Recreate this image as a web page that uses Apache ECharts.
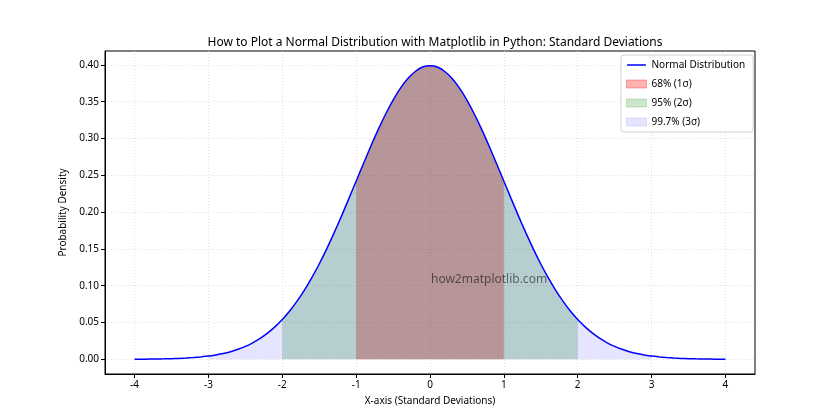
<!DOCTYPE html>
<html>
<head>
<meta charset="utf-8">
<script src="https://cdn.jsdelivr.net/npm/echarts@6/dist/echarts.min.js"></script>
<style>html,body{margin:0;padding:0;background:#fff}#c{width:840px;height:420px}</style>
</head>
<body>
<div id="c"></div>
<script>
// x positions (standard deviations)
const xs = [-4.0,-3.9,-3.8,-3.7,-3.6,-3.5,-3.4,-3.3,-3.2,-3.1,-3.0,-2.9,-2.8,-2.7,-2.6,-2.5,-2.4,-2.3,-2.2,-2.1,-2.0,-1.9,-1.8,-1.7,-1.6,-1.5,-1.4,-1.3,-1.2,-1.1,-1.0,-0.9,-0.8,-0.7,-0.6,-0.5,-0.4,-0.3,-0.2,-0.1,0.0,0.1,0.2,0.3,0.4,0.5,0.6,0.7,0.8,0.9,1.0,1.1,1.2,1.3,1.4,1.5,1.6,1.7,1.8,1.9,2.0,2.1,2.2,2.3,2.4,2.5,2.6,2.7,2.8,2.9,3.0,3.1,3.2,3.3,3.4,3.5,3.6,3.7,3.8,3.9,4.0];
// density values
const ys = [0.0001,0.0002,0.0003,0.0004,0.0006,0.0009,0.0012,0.0017,0.0024,0.0033,0.0044,0.0060,0.0079,0.0104,0.0136,0.0175,0.0224,0.0283,0.0355,0.0440,0.0540,0.0656,0.0790,0.0940,0.1109,0.1295,0.1497,0.1714,0.1942,0.2179,0.2420,0.2661,0.2897,0.3123,0.3332,0.3521,0.3683,0.3814,0.3910,0.3970,0.3989,0.3970,0.3910,0.3814,0.3683,0.3521,0.3332,0.3123,0.2897,0.2661,0.2420,0.2179,0.1942,0.1714,0.1497,0.1295,0.1109,0.0940,0.0790,0.0656,0.0540,0.0440,0.0355,0.0283,0.0224,0.0175,0.0136,0.0104,0.0079,0.0060,0.0044,0.0033,0.0024,0.0017,0.0012,0.0009,0.0006,0.0004,0.0003,0.0002,0.0001];
const xTicks = [-4,-3,-2,-1,0,1,2,3,4];
const yTicks = [0,0.05,0.10,0.15,0.20,0.25,0.30,0.35,0.40];
const bands = [
  {name:'68% (1σ)', k:1, color:'rgba(255,0,0,0.3)'},
  {name:'95% (2σ)', k:2, color:'rgba(0,128,0,0.2)'},
  {name:'99.7% (3σ)', k:3, color:'rgba(0,0,255,0.1)'}
];
const pts = xs.map((x,i)=>[x,ys[i]]);
const font = 'Noto Sans';

const series = bands.map(b=>({
  name:b.name, type:'line', symbol:'none', smooth:0.3,
  data: pts.filter(p=>p[0]>=-b.k-1e-9 && p[0]<=b.k+1e-9),
  lineStyle:{width:0, color:b.color}, itemStyle:{color:b.color},
  areaStyle:{color:b.color, opacity:1}, silent:true, z:2
}));
series.push({
  name:'Normal Distribution', type:'line', symbol:'none', smooth:0.3,
  data:pts, lineStyle:{color:'#0000ff', width:1.5}, itemStyle:{color:'#0000ff'}, z:5
});

const lineIcon = 'path://M0,0 L0.01,0 L0.01,0.01 L0,0.01 Z M0,7 L40,7 L40,10 L0,10 Z M39.99,17 L40,17 L40,16.99 L39.99,16.99 Z';

const chart = echarts.init(document.getElementById('c'), null, {renderer:'canvas'});
chart.setOption({
  animation:false,
  backgroundColor:'#fff',
  textStyle:{fontFamily:font},
  title:{text:'How to Plot a Normal Distribution with Matplotlib in Python: Standard Deviations',
    left:430, top:32, textAlign:'center',
    textStyle:{fontFamily:font, fontSize:12, fontWeight:'normal', color:'#000'}},
  grid:{left:105, right:85, top:51, bottom:46, show:true, borderColor:'#000', borderWidth:1, containLabel:false},
  xAxis:{type:'value', min:-4.4, max:4.4,
    name:'X-axis (Standard Deviations)', nameLocation:'middle', nameGap:22,
    nameTextStyle:{fontFamily:font, fontSize:10, color:'#000'},
    axisLine:{show:true, onZero:false, lineStyle:{color:'#000', width:1}},
    axisTick:{show:true, length:4, customValues:xTicks, lineStyle:{color:'#000'}},
    axisLabel:{customValues:xTicks, fontFamily:font, fontSize:10, color:'#000', margin:6},
    splitLine:{show:true, lineStyle:{color:'#d8d8d8', type:[1,2], width:0.8}}
  },
  yAxis:{type:'value', min:-0.01995, max:0.41883,
    name:'Probability Density', nameLocation:'middle', nameGap:37,
    nameTextStyle:{fontFamily:font, fontSize:10, color:'#000'},
    axisLine:{show:true, onZero:false, lineStyle:{color:'#000', width:1}},
    axisTick:{show:true, length:4, customValues:yTicks, lineStyle:{color:'#000'}},
    axisLabel:{customValues:yTicks, fontFamily:font, fontSize:10, color:'#000', margin:6,
      formatter:v=>v.toFixed(2)},
    splitLine:{show:true, lineStyle:{color:'#d8d8d8', type:[1,2], width:0.8}}
  },
  legend:{
    orient:'vertical', left:621, top:55,
    backgroundColor:'#fff', borderColor:'#d0d0d0', borderWidth:1, borderRadius:3,
    padding:[5,8,5,5], itemGap:9, itemWidth:20, itemHeight:8,
    textStyle:{fontFamily:font, fontSize:10, color:'#000'},
    data:[
      {name:'Normal Distribution', icon:lineIcon, itemStyle:{color:'#0000ff', borderWidth:0}},
      {name:'68% (1σ)', icon:'rect', itemStyle:{color:'rgba(255,0,0,0.3)', borderColor:'rgba(255,0,0,0.3)', borderWidth:1}},
      {name:'95% (2σ)', icon:'rect', itemStyle:{color:'rgba(0,128,0,0.2)', borderColor:'rgba(0,128,0,0.2)', borderWidth:1}},
      {name:'99.7% (3σ)', icon:'rect', itemStyle:{color:'rgba(0,0,255,0.1)', borderColor:'rgba(0,0,255,0.1)', borderWidth:1}}
    ]
  },
  graphic:[{type:'text', left:431, top:274, z:100,
    style:{text:'how2matplotlib.com', fontFamily:font, fontSize:12, fill:'rgba(0,0,0,0.55)'}}],
  series: series
});
</script>
</body>
</html>
